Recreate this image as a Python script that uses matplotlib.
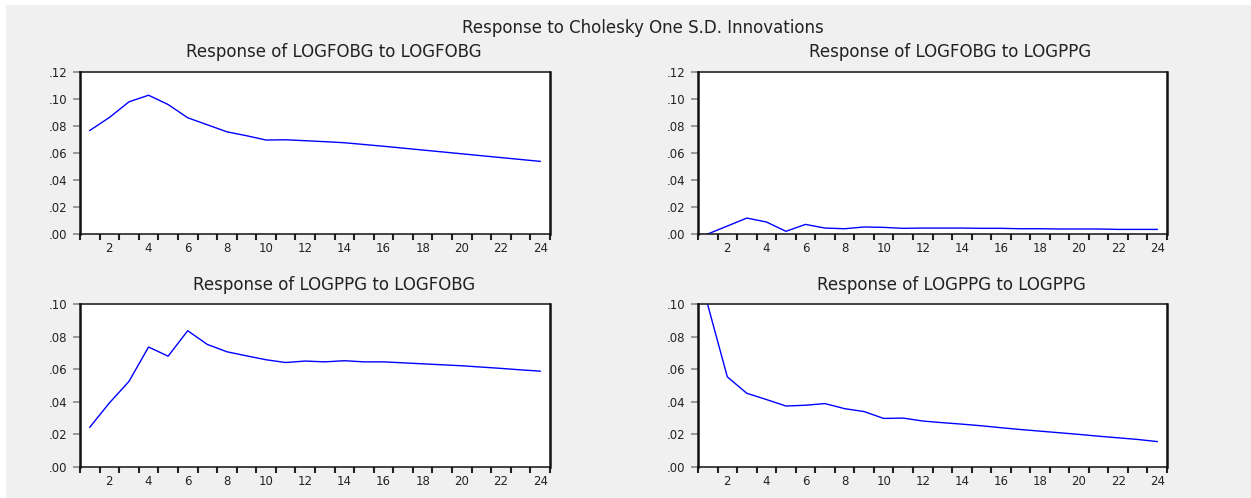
import matplotlib
matplotlib.use("Agg")
import matplotlib.pyplot as plt
from matplotlib.patches import Rectangle
from matplotlib.ticker import FixedLocator, FuncFormatter

plt.rcParams['font.family'] = ['DejaVu Sans']

periods = list(range(1, 25))

fobg_to_fobg = [0.0767, 0.0863, 0.0979, 0.1028, 0.0959, 0.0861, 0.0809, 0.0757, 0.0728,
                0.0696, 0.0698, 0.0691, 0.0684, 0.0676, 0.0663, 0.0650, 0.0636, 0.0622,
                0.0608, 0.0594, 0.0580, 0.0566, 0.0552, 0.0538]
fobg_to_ppg = [0.0000, 0.0059, 0.0118, 0.0089, 0.0020, 0.0071, 0.0044, 0.0039, 0.0052,
               0.0049, 0.0042, 0.0044, 0.0044, 0.0044, 0.0042, 0.0042, 0.0039, 0.0039,
               0.0037, 0.0037, 0.0037, 0.0034, 0.0034, 0.0034]
ppg_to_fobg = [0.0244, 0.0393, 0.0525, 0.0736, 0.0680, 0.0836, 0.0752, 0.0707, 0.0682,
               0.0658, 0.0641, 0.0650, 0.0645, 0.0652, 0.0645, 0.0645, 0.0639, 0.0633,
               0.0627, 0.0621, 0.0613, 0.0605, 0.0596, 0.0588]
ppg_to_ppg = [0.0994, 0.0553, 0.0452, 0.0414, 0.0374, 0.0379, 0.0389, 0.0358, 0.0340,
              0.0298, 0.0300, 0.0282, 0.0272, 0.0263, 0.0253, 0.0241, 0.0230, 0.0220,
              0.0210, 0.0200, 0.0189, 0.0179, 0.0169, 0.0156]

panel_titles = ["Response of LOGFOBG to LOGFOBG", "Response of LOGFOBG to LOGPPG",
                "Response of LOGPPG to LOGFOBG", "Response of LOGPPG to LOGPPG"]
panel_series = [fobg_to_fobg, fobg_to_ppg, ppg_to_fobg, ppg_to_ppg]
panel_ymax = [0.12, 0.12, 0.10, 0.10]
main_title = "Response to Cholesky One S.D. Innovations"
xtick_labels = [str(v) for v in range(2, 25, 2)]

W, H = 1251, 498
fig = plt.figure(figsize=(W / 100, H / 100), dpi=100, facecolor='white')
fig.patches.append(Rectangle((6 / W, 0), 1 - 6 / W, 1 - 5 / H, transform=fig.transFigure,
                             facecolor='#f0f0f0', edgecolor='none', zorder=-10))

# axes boxes in pixels: left, top, right, bottom
boxes = [(80, 72, 550, 234), (698, 72, 1167, 234), (80, 304, 550, 467), (698, 304, 1167, 467)]
title_pos = [(334, 52), (950, 52), (334, 285), (951, 285)]

for box, title, series, ymax, tp in zip(boxes, panel_titles, panel_series, panel_ymax, title_pos):
    l, t, r, b = box
    ax = fig.add_axes([l / W, 1 - b / H, (r - l) / W, (b - t) / H])
    ax.set_facecolor('white')
    ax.plot(periods, series, color='#0000ff', lw=1.0)
    ax.set_xlim(0.5, 24.5)
    ax.set_ylim(0, ymax)
    yt = [round(v * 0.02, 2) for v in range(int(round(ymax / 0.02)) + 1)]
    ax.set_yticks(yt)
    ax.yaxis.set_major_formatter(FuncFormatter(lambda v, p: f"{v:.2f}".replace("0.", ".", 1)))
    ax.set_xticks(list(range(2, 25, 2)))
    ax.set_xticklabels(xtick_labels)
    ax.xaxis.set_minor_locator(FixedLocator([i + 0.5 for i in range(0, 25)]))
    ax.tick_params(axis='x', which='major', length=0, pad=6, labelsize=8.5, labelcolor='#222222')
    ax.tick_params(axis='x', which='minor', length=4, width=1.5, color='#222222', direction='out')
    ax.tick_params(axis='y', which='major', length=5, width=1.2, color='#888888', pad=4,
                   labelsize=8.5, labelcolor='#222222')
    for side in ['left', 'right']:
        ax.spines[side].set_linewidth(1.8)
        ax.spines[side].set_color('#111111')
    for side in ['top', 'bottom']:
        ax.spines[side].set_linewidth(1.1)
        ax.spines[side].set_color('#111111')
    fig.text(tp[0] / W, 1 - tp[1] / H, title, ha='center', va='center',
             fontsize=12, color='#222222')

fig.text(643 / W, 1 - 28 / H, main_title, ha='center', va='center',
         fontsize=12, color='#222222')

fig.savefig('out.png', dpi=100, facecolor=fig.get_facecolor())
